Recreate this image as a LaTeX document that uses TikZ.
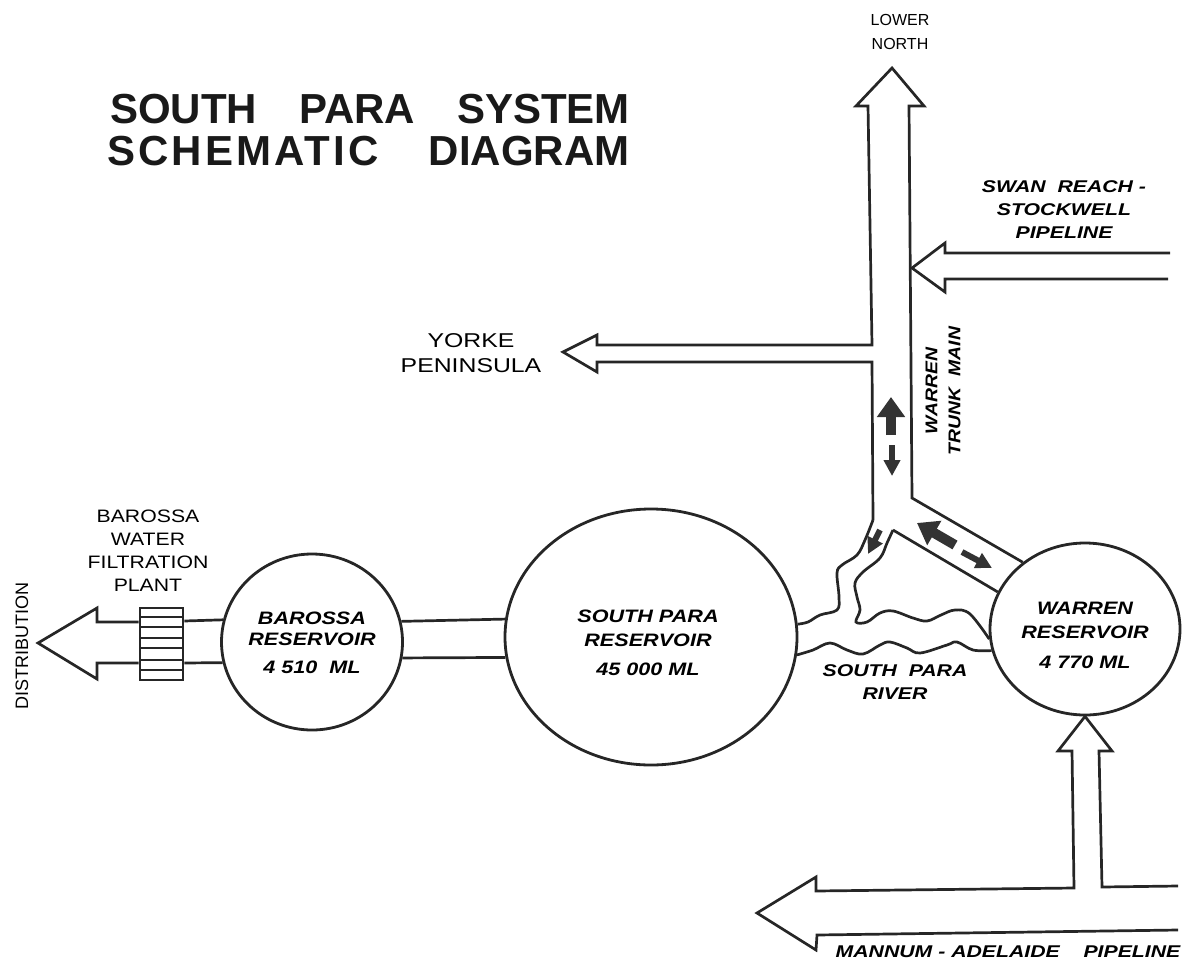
\documentclass[tikz,border=0pt]{standalone}
\usepackage{fontspec}
\setmainfont{Liberation Sans}
\usetikzlibrary{shapes.geometric,arrows.meta}

\begin{document}
\begin{tikzpicture}
[
	x=1pt,y=-1pt,
	pipe/.style={draw=black!85,line width=2.7pt,line join=miter},
	river/.style={draw=black!85,line width=2.7pt,smooth,tension=0.6},
	reservoir/.style={ellipse,draw=black!85,line width=2.8pt,inner sep=0pt},
	reservoirlabel/.style={align=center,inner sep=0pt,font=\fontsize{18}{21}\selectfont\bfseries\itshape\addfontfeature{FakeStretch=1.2}},
	plainlabel/.style={align=center,inner sep=0pt,font=\fontsize{18}{23}\selectfont\addfontfeature{FakeStretch=1.18}},
	italiclabel/.style={align=center,inner sep=0pt,font=\fontsize{17}{23}\selectfont\bfseries\itshape\addfontfeature{FakeStretch=1.25}},
	titlelabel/.style={inner sep=0pt,anchor=west,text=black!90,font=\fontsize{42}{44}\selectfont\bfseries},
	flowbig/.style={draw=black!80,line width=10pt,-{Triangle[length=20pt,width=27pt]}},
	flowsmall/.style={draw=black!80,line width=6pt,-{Triangle[length=16pt,width=16pt]}}
]
	\useasboundingbox (0,0) rectangle (1193,966);

	% title
	\node[titlelabel] (titleA) at (110,109) {SOUTH\hspace{42pt}PARA\hspace{42pt}SYSTEM};
	\node[titlelabel] (titleB) at (107,151) {{\addfontfeature{LetterSpace=7.5}SCHEMATIC}\hspace{50pt}DIAGRAM};

	% reservoirs
	\node[reservoir,minimum width=181pt,minimum height=176pt] (barossa) at (312,642) {};
	\node[reservoir,minimum width=292pt,minimum height=256pt] (southpara) at (651,637) {};
	\node[reservoir,minimum width=190pt,minimum height=172pt] (warren) at (1085,629) {};
	\node[reservoirlabel] (barossalabel) at (312,643) {BAROSSA\\RESERVOIR\\[7pt]4 510\ \ ML};
	\node[reservoirlabel] (southparalabel) at (648,643) {SOUTH PARA\\[3pt]RESERVOIR\\[8pt]45 000 ML};
	\node[reservoirlabel] (warrenlabel) at (1085,635) {WARREN\\[3pt]RESERVOIR\\[9pt]4 770 ML};

	% pipe between the two big reservoirs
	\draw[pipe] (barossa.13.5) -- (southpara.173.7);
	\draw[pipe] (barossa.-10.2) -- (southpara.188.3);

	% filtration plant and distribution arrow
	\node[draw=black!85,line width=2.7pt,inner sep=0pt,minimum width=43pt,minimum height=72pt] (plant) at (161.5,644) {};
	\foreach \y in {617,627,638,648,660,670}
		\draw[black!85,line width=2.2pt] (140,\y) -- (183,\y);
	\draw[pipe] (barossa.166.5) -- (plant.east |- 0,621);
	\draw[pipe] (barossa.193.5) -- (plant.east |- 0,663);
	\draw[pipe] (plant.west |- 0,622) -- (97,622) -- (97,608) -- (38,643) -- (97,679) -- (97,663) -- (plant.west |- 0,663);

	% trunk main, lower north arrow, yorke peninsula arrow
	\draw[pipe] (873,520) -- (872,362) -- (597,362) -- (597,372) -- (563,352) -- (597,335) -- (597,345) -- (872,345) -- (868,106) -- (856,106) -- (892,68) -- (924,106) -- (909,106) -- (912,498) -- (warren.133.7);
	\draw[pipe] (893,530) -- (warren.157.5);

	% swan reach pipeline
	\draw[pipe] (1170,253) -- (945,253) -- (945,243) -- (912,268) -- (945,292) -- (945,279) -- (1168,279);

	% river
	\draw[river] plot coordinates {(873,520) (865,540) (857,555) (842,565) (837,573) (839,597) (837,610) (820,615) (808,622) (southpara.5.5)};
	\draw[river] plot coordinates {(893,530) (887,543) (880,558) (863,572) (855,583) (857,597) (860,610) (856,622) (867,622) (880,613) (893,611) (913,618) (927,621) (941,615) (955,610) (970,614) (warren.186)};
	\draw[river] plot coordinates {(southpara.-7) (813,650) (830,643) (847,650) (863,654) (880,645) (890,642) (907,648) (920,653) (947,645) (957,642) (973,650) (warren.193.7)};

	% mannum - adelaide pipeline
	\draw[pipe] (1178,886) -- (1102,887) -- (1099,751) -- (1112,751) -- (warren.south) -- (1058,751) -- (1072,751) -- (1074,888) -- (816,891) -- (816,877) -- (757,913) -- (816,950) -- (817,935) -- (1178,930);

	% flow arrows
	\coordinate (upA) at (891,435);
	\coordinate (upB) at (891,397);
	\coordinate (downA) at (892,445);
	\coordinate (downB) at (892,476);
	\coordinate (diagA) at (955,545);
	\coordinate (diagB) at (917,523);
	\coordinate (diagC) at (962,552);
	\coordinate (diagD) at (992,568);
	\coordinate (riverA) at (880,530);
	\coordinate (riverB) at (868,554);
	\draw[flowbig] (upA) -- (upB);
	\draw[flowsmall] (downA) -- (downB);
	\draw[flowbig] (diagA) -- (diagB);
	\draw[flowsmall] (diagC) -- (diagD);
	\draw[flowsmall] (riverA) -- (riverB);

	% labels
	\node[plainlabel,font=\fontsize{16}{24}\selectfont] (lowernorth) at (900,32) {LOWER\\NORTH};
	\node[plainlabel,font=\fontsize{20}{25}\selectfont\addfontfeature{FakeStretch=1.24}] (yorke) at (471,353) {YORKE\\PENINSULA};
	\node[plainlabel] (plantlabel) at (148,551) {BAROSSA\\WATER\\FILTRATION\\PLANT};
	\node[plainlabel,font=\fontsize{18}{23}\selectfont,rotate=90] (distribution) at (22,646) {DISTRIBUTION};
	\node[italiclabel] (swanreach) at (1064,210) {SWAN\ \ REACH -\\STOCKWELL\\PIPELINE};
	\node[italiclabel,font=\fontsize{17}{23}\selectfont\bfseries\itshape\addfontfeature{FakeStretch=1.14},rotate=90] (trunkmain) at (943,391) {WARREN\\TRUNK\ \ MAIN};
	\node[italiclabel] (riverlabel) at (895,682) {SOUTH\ \ PARA\\RIVER};
	\node[italiclabel] (mannum) at (1008,952) {MANNUM - ADELAIDE\ \ \ \ PIPELINE};

\end{tikzpicture}
\end{document}
